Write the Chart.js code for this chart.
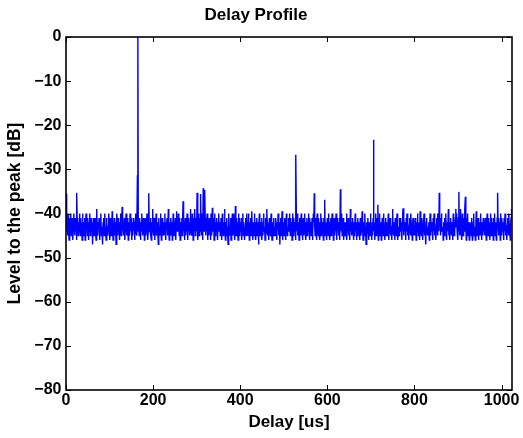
<!DOCTYPE html>
<html>
<head>
<meta charset="utf-8">
<script src="https://cdn.jsdelivr.net/npm/chart.js@4/dist/chart.umd.min.js"></script>
<style>
  html, body { margin: 0; padding: 0; background: #fff; }
  #c { display: block; }
</style>
</head>
<body>
<canvas id="c" width="523" height="438"></canvas>
<script>
// ---- data ----
const chartTitle = 'Delay Profile';
const xAxisTitle = 'Delay [us]';
const yAxisTitle = 'Level to the peak [dB]';
const sampleStepUs = 1;             // one level sample per microsecond of delay
const xTickValues = [0, 200, 400, 600, 800, 1000];
const yTickValues = [-80, -70, -60, -50, -40, -30, -20, -10, 0];
const xRange = [0, 1024];
const yRange = [-80, 0];

// level relative to the peak [dB], 32 samples per row (delay 0 .. 1023 us)
const levelRows = [
  [-35.5,-41,-44,-42,-45,-40,-43,-46,-41,-44,-42,-40,-45,-43,-41,-44,-46,-42,-40,-43,-45,-41,-44,-42,-46,-35.3,-43,-41,-45,-42,-44,-40],
  [-43,-45,-41,-44,-42,-46,-40,-43,-45,-42,-44,-41,-46,-43,-40,-44,-42,-45,-41,-43,-46,-42,-44,-40,-45,-43,-41,-44,-42,-47,-43,-41],
  [-43,-45,-42,-41,-44,-46,-43,-39,-44,-45,-42,-43,-41,-46,-44,-42,-40,-45,-43,-44,-47,-42,-41,-43,-45,-40,-44,-43,-46,-41,-42,-44],
  [-45,-43,-40,-42,-44,-46,-41,-43,-45,-44,-39.5,-42,-46,-43,-44,-41,-45,-42,-43,-47,-44,-40,-43,-45,-41,-44,-42,-46,-43,-40,-44,-45],
  [-41,-38.5,-44,-42,-45,-43,-41,-46,-44,-42,-40,-45,-43,-41,-44,-46,-42,-43,-45,-40,-44,-42,-41,-46,-43,-45,-42,-44,-41,-43,-46,-42],
  [-40,-44,-43,-45,-31.5,0,-44,-42,-45,-41,-43,-46,-42,-44,-40,-43,-45,-41,-44,-42,-46,-43,-41,-45,-44,-42,-40,-43,-46,-44,-35.4,-42],
  [-43,-44,-41,-45,-46,-42,-43,-39,-44,-45,-42,-41,-46,-43,-44,-40,-45,-43,-42,-44,-47,-41,-43,-45,-44,-40,-42,-46,-43,-41,-45,-44],
  [-42,-45,-43,-40,-44,-46,-42,-43,-41,-45,-44,-39,-43,-46,-42,-44,-45,-41,-43,-42,-46,-44,-40,-43,-45,-42,-44,-41,-46,-43,-39.5,-44],
  [-42,-44,-40,-43,-45,-41,-46,-42,-44,-43,-41,-45,-40,-37.2,-44,-42,-46,-43,-41,-45,-42,-44,-40,-43,-46,-41,-44,-42,-45,-43,-39,-44],
  [-42,-45,-40,-43,-46,-41,-44,-42,-39,-45,-43,-41,-44,-35.3,-42,-46,-40,-43,-45,-41,-44,-35.6,-42,-45,-40,-43,-46,-34.3,-41,-44,-42,-34.7],
  [-43,-45,-41,-44,-40,-46,-42,-43,-45,-41,-44,-42,-46,-40,-43,-45,-38.7,-42,-44,-41,-46,-43,-40,-45,-42,-44,-41,-43,-46,-42,-44,-40],
  [-44,-42,-45,-43,-41,-46,-44,-40,-43,-45,-42,-44,-39,-43,-46,-42,-45,-41,-44,-43,-47,-42,-40,-44,-45,-43,-41,-46,-44,-42,-40,-45],
  [-43,-40,-44,-42,-46,-38.3,-43,-45,-41,-44,-42,-46,-40,-43,-45,-41,-44,-42,-43,-46,-41,-44,-40,-45,-42,-43,-46,-44,-41,-42,-45,-40],
  [-42,-45,-44,-40,-43,-46,-42,-44,-41,-45,-43,-39.5,-44,-46,-42,-43,-45,-40,-44,-42,-46,-43,-41,-45,-44,-42,-47,-43,-40,-44,-45,-42],
  [-44,-41,-46,-43,-45,-42,-40,-44,-43,-46,-41,-45,-44,-39,-42,-45,-43,-46,-44,-41,-43,-45,-42,-40,-44,-46,-43,-42,-45,-41,-44,-43],
  [-45,-43,-41,-44,-46,-42,-43,-40,-45,-44,-42,-47,-43,-41,-45,-44,-39.5,-43,-46,-42,-44,-45,-41,-43,-46,-44,-40,-42,-45,-43,-44,-41],
  [-42,-40,-43,-45,-41,-44,-42,-46,-43,-40,-45,-41,-44,-42,-43,-46,-26.7,-41,-44,-40,-45,-42,-43,-46,-44,-41,-42,-45,-40,-43,-44,-46],
  [-42,-41,-45,-43,-40,-44,-42,-46,-43,-41,-45,-42,-44,-40,-43,-46,-41,-44,-42,-45,-43,-41,-46,-44,-40,-42,-35.4,-43,-45,-41,-44,-46],
  [-42,-40,-43,-45,-41,-44,-42,-46,-43,-40,-45,-41,-44,-42,-43,-46,-41,-44,-36.9,-45,-42,-43,-46,-44,-41,-42,-45,-40,-43,-44,-46,-42],
  [-41,-45,-43,-40,-44,-42,-46,-43,-41,-45,-42,-44,-40,-43,-46,-41,-44,-42,-45,-43,-41,-46,-34.5,-44,-40,-42,-45,-43,-41,-44,-46,-42],
  [-43,-45,-42,-44,-40,-46,-43,-44,-41,-45,-42,-43,-46,-39,-44,-42,-45,-43,-41,-44,-46,-42,-45,-43,-40,-44,-42,-46,-43,-45,-41,-44],
  [-42,-44,-46,-43,-41,-45,-44,-42,-39.5,-43,-46,-44,-42,-45,-40,-43,-44,-47,-42,-45,-43,-41,-44,-46,-42,-43,-45,-40,-44,-43,-46,-42],
  [-45,-41,-23.3,-44,-42,-46,-43,-40,-45,-41,-44,-42,-38,-46,-41,-44,-40,-45,-42,-43,-46,-44,-41,-42,-45,-40,-43,-44,-46,-42,-41,-45],
  [-44,-42,-45,-43,-40,-46,-44,-43,-41,-45,-42,-44,-46,-43,-39,-44,-45,-42,-43,-46,-41,-44,-45,-43,-40,-42,-46,-44,-43,-45,-41,-44],
  [-41,-44,-42,-46,-43,-40,-38.8,-45,-41,-44,-42,-43,-46,-41,-44,-40,-45,-42,-43,-46,-44,-41,-42,-45,-40,-43,-44,-46,-42,-41,-45,-43],
  [-43,-45,-41,-44,-46,-42,-44,-40,-43,-45,-44,-42,-46,-39.5,-43,-44,-45,-41,-43,-46,-44,-42,-40,-45,-43,-44,-47,-42,-41,-44,-45,-43],
  [-44,-42,-46,-43,-40,-45,-41,-44,-42,-43,-46,-41,-44,-40,-45,-42,-43,-46,-44,-41,-42,-45,-40,-43,-44,-35.3,-42,-41,-45,-43,-40,-44],
  [-44,-43,-46,-42,-45,-41,-44,-43,-40,-45,-46,-42,-44,-43,-39,-45,-42,-46,-44,-41,-43,-45,-42,-44,-46,-40,-43,-45,-42,-44,-41,-39],
  [-43,-40,-44,-42,-46,-41,-35.1,-43,-45,-41,-39,-44,-42,-46,-40,-43,-45,-41,-44,-42,-39,-36.2,-43,-46,-41,-44,-40,-45,-42,-43,-46,-44],
  [-42,-44,-45,-41,-43,-46,-44,-42,-40,-45,-43,-44,-46,-42,-39.5,-44,-45,-43,-41,-46,-44,-42,-45,-43,-40,-44,-46,-42,-43,-45,-41,-44],
  [-42,-45,-43,-41,-44,-46,-42,-40,-43,-45,-41,-44,-42,-46,-43,-40,-45,-41,-44,-42,-43,-46,-41,-44,-40,-45,-42,-43,-46,-44,-41,-35.3],
  [-43,-45,-41,-44,-42,-46,-40,-43,-45,-41,-44,-42,-43,-46,-41,-44,-40,-45,-42,-43,-46,-44,-41,-42,-45,-40,-43,-44,-46,-42,-41,-39]
];
const levelsDb = levelRows.flat();

// ---- chart ----
const FONT = '"Liberation Sans", Arial, Helvetica, sans-serif';
const fmt = v => (v < 0 ? '\u2212' + Math.abs(v) : String(v));

const matlabBox = {
  id: 'matlabBox',
  afterDatasetsDraw(chart) {
    const { ctx, chartArea: a, scales: { x, y } } = chart;
    const tl = 5;
    ctx.save();
    ctx.strokeStyle = '#000';
    ctx.lineWidth = 1;
    ctx.beginPath();
    xTickValues.forEach(v => {
      const px = Math.round(x.getPixelForValue(v)) + 0.5;
      ctx.moveTo(px, a.bottom); ctx.lineTo(px, a.bottom - tl);
      ctx.moveTo(px, a.top); ctx.lineTo(px, a.top + tl);
    });
    yTickValues.forEach(v => {
      const py = Math.round(y.getPixelForValue(v)) + 0.5;
      ctx.moveTo(a.left, py); ctx.lineTo(a.left + tl, py);
      ctx.moveTo(a.right, py); ctx.lineTo(a.right - tl, py);
    });
    ctx.stroke();
    ctx.lineWidth = 1.6;
    ctx.strokeRect(a.left, a.top, a.right - a.left, a.bottom - a.top);
    ctx.restore();
  }
};

new Chart(document.getElementById('c'), {
  type: 'line',
  data: {
    datasets: [{
      data: levelsDb.map((v, i) => ({ x: i * sampleStepUs, y: v })),
      borderColor: '#0000ff',
      borderWidth: 1.4,
      pointRadius: 0,
      tension: 0,
      fill: false
    }]
  },
  options: {
    responsive: false,
    animation: false,
    devicePixelRatio: 1,
    layout: { padding: { left: 0, right: 11, top: 0, bottom: 0 } },
    plugins: {
      legend: { display: false },
      tooltip: { enabled: false },
      title: {
        display: true,
        text: chartTitle,
        color: '#000',
        font: { family: FONT, size: 17, weight: 'bold' },
        padding: { top: 5, bottom: 11.6 }
      }
    },
    scales: {
      x: {
        type: 'linear',
        min: xRange[0], max: xRange[1],
        afterBuildTicks: s => { s.ticks = xTickValues.map(v => ({ value: v })); },
        afterFit: s => { s.height = 48; },
        grid: { display: false, drawTicks: false },
        border: { display: false },
        ticks: {
          color: '#000', padding: 1, maxRotation: 0, autoSkip: false,
          font: { family: FONT, size: 16, weight: 'bold' },
          callback: v => fmt(v)
        },
        title: {
          display: true, text: xAxisTitle, color: '#000',
          font: { family: FONT, size: 17, weight: 'bold' },
          padding: { top: 0, bottom: 5 }
        }
      },
      y: {
        type: 'linear',
        min: yRange[0], max: yRange[1],
        afterBuildTicks: s => { s.ticks = yTickValues.map(v => ({ value: v })); },
        afterFit: s => { s.width = 66; },
        grid: { display: false, drawTicks: false },
        border: { display: false },
        ticks: {
          color: '#000', padding: 4.5, autoSkip: false,
          font: { family: FONT, size: 16, weight: 'bold' },
          callback: v => fmt(v)
        },
        title: {
          display: true, text: yAxisTitle, color: '#000',
          font: { family: FONT, size: 17.5, weight: 'bold' },
          padding: { top: 5, bottom: 0 }
        }
      }
    }
  },
  plugins: [matlabBox]
});
</script>
</body>
</html>
